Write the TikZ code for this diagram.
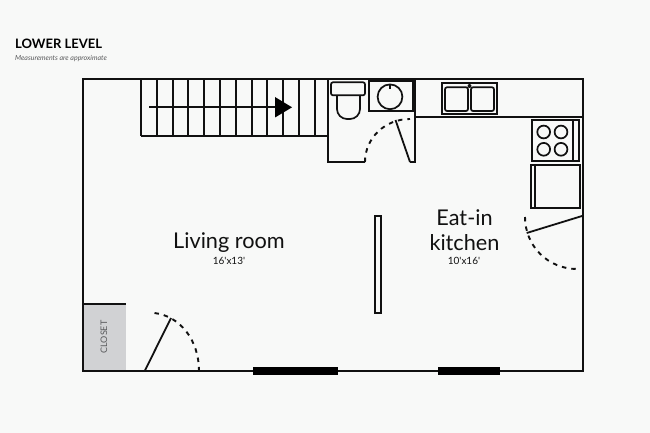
\documentclass[tikz,border=0pt]{standalone}
\usepackage{fontspec}
\setmainfont{Lato}
\newfontfamily\dimsfont{Lato}
\definecolor{bgc}{HTML}{F8F9F8}
\definecolor{ink}{HTML}{111111}
\definecolor{closetc}{HTML}{D1D2D4}
\definecolor{closett}{HTML}{58595B}
\tikzset{
  wall/.style={draw=ink,line width=2pt},
  thin wall/.style={draw=ink,line width=1.8pt},
  fixture/.style={draw=ink,line width=1.7pt},
  swing/.style={draw=ink,line width=1.9pt,dash pattern=on 4.5pt off 5pt},
  room/.style={text=ink,font=\fontsize{21.7}{24}\selectfont,inner sep=0pt,align=center},
  dims/.style={text=ink,font=\dimsfont\fontsize{10}{12}\selectfont,inner sep=0pt},
}
\begin{document}
\begin{tikzpicture}[x=1pt,y=-1pt]
\fill[bgc] (0,0) rectangle (650,433);
\useasboundingbox (0,0) rectangle (650,433);
% title
\node[anchor=west,inner sep=0pt,text=black,font=\fontsize{13}{15}\selectfont\bfseries] (title) at (15,43.5) {LOWER LEVEL};
\node[anchor=west,inner sep=0pt,text=closett,font=\fontsize{7}{8}\selectfont\itshape] (note) at (15,59) {Measurements are approximate};
% closet
\fill[closetc] (83,304) rectangle (125.5,371);
\draw[thin wall] (83,304) -- (125.5,304);
\node[rotate=90,inner sep=0pt,text=closett,font=\fontsize{9}{10}\selectfont] (closet) at (104,337) {CLOSET};
% stairs
\foreach \x in {141,157,172.7,188.3,204,220,235.7,251.7,267.3,283,298.7,314.7}
  \draw[fixture] (\x,79) -- (\x,136);
\draw[fixture] (141,136) -- (328,136);
\draw[draw=ink,line width=2pt] (149,107.3) -- (276,107.3);
\fill[black] (275,97) -- (292,107.3) -- (275,117.5) -- cycle;
% outer walls
\draw[wall] (83,79) rectangle (583,371);
% bath
\draw[wall,line cap=butt] (328,79) -- (328,162) -- (365,162);
\draw[wall] (415,79) -- (415,162) -- (409.5,162);
\draw[thin wall] (395.5,120) -- (410,162);
\draw[swing] (365,162) .. controls (365,138) and (385,119) .. (410,119);
% toilet
\draw[fixture,rounded corners=2pt] (331,82.3) rectangle (365,95.3);
\draw[fixture] (337,95.3) -- (337,109) arc[start angle=180,end angle=90,radius=10] -- (350,119) arc[start angle=90,end angle=0,radius=10] -- (360,95.3);
% bath sink
\draw[fixture] (369,81) rectangle (413,110.7);
\draw[fixture] (390,96.8) circle[radius=12.4];
\draw[line width=1.1pt,draw=ink] (390,84.5) -- (390,89);
% kitchen counter
\draw[wall] (415,116.8) -- (583,116.8);
\draw[fixture] (442,83) rectangle (497,114);
\draw[fixture,rounded corners=2pt] (445,87.3) rectangle (468,111);
\draw[fixture,rounded corners=2pt] (471,87.3) rectangle (494,111);
\fill[ink] (469.5,86) circle[radius=2];
% stove
\draw[fixture] (532,120) rectangle (579.3,160.8);
\draw[fixture] (573,120) -- (573,160.8);
\foreach \p in {(543.7,132),(561,132),(543.7,149.3),(561,149.3)}
  \draw[fixture] \p circle[radius=6.4];
% fridge
\draw[fixture] (531,165) rectangle (580,208);
\draw[fixture] (535,165) -- (535,208);
% kitchen door
\draw[thin wall] (583,215.7) -- (526.7,233);
\draw[swing] (525,217) .. controls (525,246) and (548,269) .. (577,269);
% divider
\draw[fixture] (375,216) rectangle (381,313);
% entry door
\draw[thin wall] (144.7,371) -- (171,318);
\draw[swing] (154.5,313) .. controls (180,316) and (199,340) .. (199,371);
% windows
\fill[black] (253,367) rectangle (338,374.5);
\fill[black] (438,367) rectangle (500,374.5);
% labels
\node[room] (living) at (229,243) {Living room};
\node[dims] (livingdim) at (229,260.5) {16'x13'};
\node[room] (eat) at (464.5,218) {Eat-in};
\node[room] (kitchen) at (464.5,243) {kitchen};
\node[dims] (kitchendim) at (464,260.5) {10'x16'};
\end{tikzpicture}
\end{document}
